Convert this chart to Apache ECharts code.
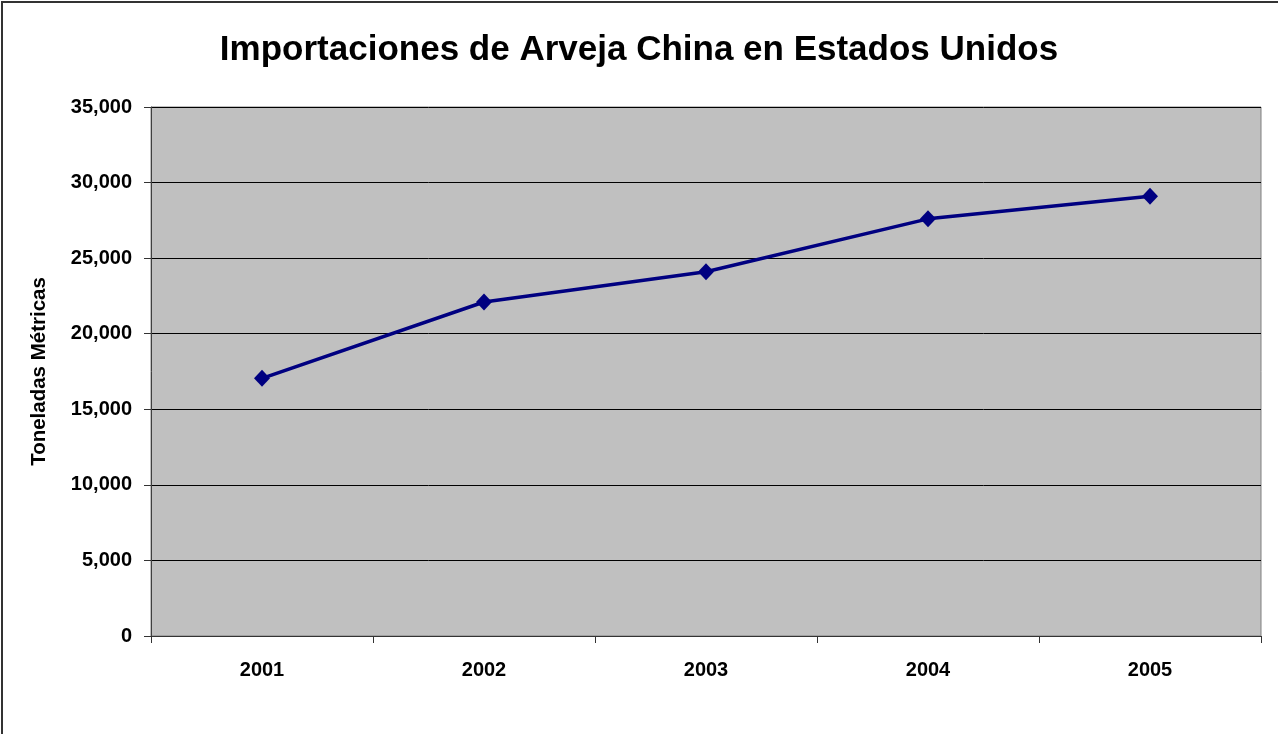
<!DOCTYPE html>
<html>
<head>
<meta charset="utf-8">
<script src="https://cdn.jsdelivr.net/npm/echarts@6/dist/echarts.min.js"></script>
<style>
html,body{margin:0;padding:0;background:#fff;}
#chart{width:1278px;height:734px;}
</style>
</head>
<body>
<div id="chart"></div>
<script>
const titleText = 'Importaciones de Arveja China en Estados Unidos';
const yAxisTitle = 'Toneladas Métricas';
const years = ['2001', '2002', '2003', '2004', '2005'];
const imports = [17050, 22100, 24100, 27600, 29100];

const FONT = '"Liberation Sans", Arial, sans-serif';
const chart = echarts.init(document.getElementById('chart'), null, {renderer: 'canvas'});
chart.setOption({
  backgroundColor: '#ffffff',
  animation: false,
  title: {
    text: titleText,
    left: 'center',
    top: 28,
    textStyle: {fontFamily: FONT, fontWeight: 'bold', fontSize: 35, color: '#000'}
  },
  graphic: [{
    type: 'rect',
    shape: {x: 2, y: 2, width: 1320, height: 800},
    style: {fill: 'none', stroke: '#333', lineWidth: 2},
    silent: true,
    z: 100
  }],
  grid: {
    left: 151, right: 17, top: 107, bottom: 98,
    show: true,
    backgroundColor: '#c0c0c0',
    borderColor: '#808080',
    borderWidth: 1
  },
  xAxis: {
    type: 'category',
    data: years,
    boundaryGap: true,
    axisLine: {show: true, lineStyle: {color: '#333', width: 1}},
    axisTick: {show: true, length: 7, lineStyle: {color: '#333'}},
    axisLabel: {margin: 24, fontFamily: FONT, fontWeight: 'bold', fontSize: 20, color: '#000'},
    splitLine: {show: false}
  },
  yAxis: {
    type: 'value',
    min: 0, max: 35000, interval: 5000,
    name: yAxisTitle,
    nameLocation: 'middle',
    nameGap: 101,
    nameTextStyle: {fontFamily: FONT, fontWeight: 'bold', fontSize: 20.5, color: '#000'},
    axisLine: {show: true, lineStyle: {color: '#404040', width: 1}},
    axisTick: {show: true, length: 7, lineStyle: {color: '#333'}},
    axisLabel: {
      margin: 19, fontFamily: FONT, fontWeight: 'bold', fontSize: 20, color: '#000',
      formatter: v => v.toLocaleString('en-US')
    },
    splitLine: {show: true, lineStyle: {color: '#000', width: 1}}
  },
  series: [{
    type: 'line',
    data: imports,
    symbol: 'diamond',
    symbolSize: [16, 17],
    lineStyle: {color: '#000080', width: 3.5},
    itemStyle: {color: '#000080'},
    z: 5
  }]
});
</script>
</body>
</html>
